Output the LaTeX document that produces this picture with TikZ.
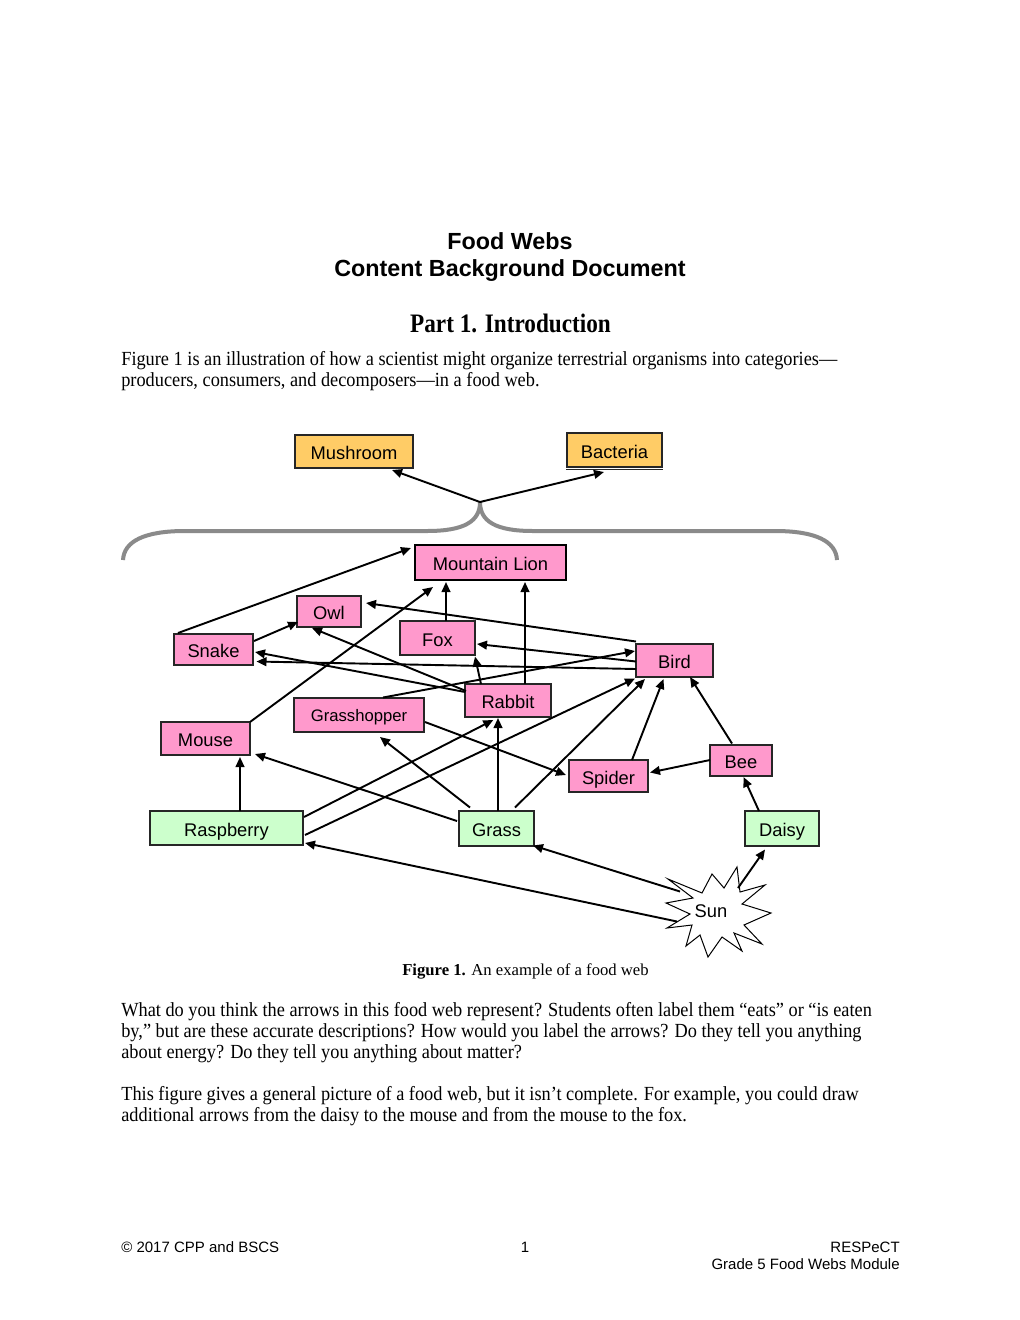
\documentclass[tikz,border=0pt]{standalone}
\usepackage{fontspec}
\setmainfont{Liberation Serif}
\setsansfont{Liberation Sans}
\newfontfamily\bodyrm[FakeStretch=0.915]{Liberation Serif}
\newfontfamily\headrm[FakeStretch=0.87]{Liberation Serif}
\usetikzlibrary{arrows.meta,calc}
\definecolor{pinkc}{HTML}{FF99CC}
\definecolor{greenc}{HTML}{CCFFCC}
\definecolor{orangec}{HTML}{FFCC66}
\definecolor{bracec}{HTML}{8A8A8A}
\tikzset{
  box/.style={draw=black!85, line width=0.7pt, inner sep=0pt, text height=9.8pt, text depth=0pt, font=\sffamily\fontsize{11}{13}\selectfont},
  pinkbox/.style={box, fill=pinkc},
  greenbox/.style={box, fill=greenc},
  orangebox/.style={box, fill=orangec},
  link/.style={draw=black, line width=1.15pt, -{Triangle[length=6pt,width=5.2pt]}},
  bodytext/.style={anchor=base west, inner sep=0pt, font=\bodyrm\fontsize{12}{14}\selectfont},
  foot/.style={inner sep=0pt, font=\sffamily\fontsize{9}{11}\selectfont},
}
\begin{document}
\begin{tikzpicture}[x=0.6pt,y=-0.6pt]
\useasboundingbox (0,0) rectangle (1020,1320);
\fill[white] (0,0) rectangle (1020,1320);

% headings and text
\node[inner sep=0pt, anchor=base, font=\sffamily\bfseries\fontsize{14}{16}\selectfont] (title1) at (510,249) {Food Webs};
\node[inner sep=0pt, anchor=base, font=\sffamily\bfseries\fontsize{14}{16}\selectfont] (title2) at (510,276) {Content Background Document};
\node[inner sep=0pt, anchor=base, font=\headrm\bfseries\fontsize{16}{18}\selectfont] (part) at (510.5,332) {Part 1. Introduction};
\node[bodytext] (p1a) at (121,365) {Figure 1 is an illustration of how a scientist might organize terrestrial organisms into categories—};
\node[bodytext] (p1b) at (121,386.5) {producers, consumers, and decomposers—in a food web.};

\node[inner sep=0pt, anchor=base, font=\rmfamily\fontsize{10}{12}\selectfont] (cap) at (525.5,975) {\textbf{Figure 1.} An example of a food web};

\node[bodytext] (p2a) at (121,1016) {What do you think the arrows in this food web represent? Students often label them “eats” or “is eaten};
\node[bodytext] (p2b) at (121,1037) {by,” but are these accurate descriptions? How would you label the arrows? Do they tell you anything};
\node[bodytext] (p2c) at (121,1058) {about energy? Do they tell you anything about matter?};
\node[bodytext] (p3a) at (121,1100) {This figure gives a general picture of a food web, but it isn’t complete. For example, you could draw};
\node[bodytext] (p3b) at (121,1121) {additional arrows from the daisy to the mouse and from the mouse to the fox.};

\node[foot, anchor=base west] (f1) at (121,1252) {© 2017 CPP and BSCS};
\node[foot, anchor=base] (f2) at (525,1252) {1};
\node[foot, anchor=base east] (f3) at (900,1252) {RESPeCT};
\node[foot, anchor=base east] (f4) at (900,1269) {Grade 5 Food Webs Module};

% brace
\draw[bracec, line width=2.4pt]
  (123,560) .. controls (124,541) and (145,531) .. (185,531) -- (427,531)
  .. controls (465,531) and (480,521) .. (480,502)
  .. controls (480,521) and (495,531) .. (533,531) -- (775,531)
  .. controls (815,531) and (836,541) .. (837,560);
\coordinate (bt) at (480,502);

% nodes
\node[orangebox, minimum width=70.8pt, minimum height=19.8pt] (mush) at (354,451.5) {Mushroom};
\node[orangebox, minimum width=57pt, minimum height=20.4pt] (bac) at (614.5,450) {Bacteria};
\draw[black!85, line width=0.6pt] ([yshift=-1.3pt]bac.south west) -- ([yshift=-1.3pt]bac.south east);
\node[pinkbox, draw=black, line width=1.4pt, minimum width=90.6pt, minimum height=21pt] (ml) at (490.5,562.5) {Mountain Lion};
\node[pinkbox, minimum width=38.4pt, minimum height=18.6pt] (owl) at (329,611.5) {Owl};
\node[pinkbox, minimum width=45pt, minimum height=20.4pt] (fox) at (437.5,638) {Fox};
\node[pinkbox, minimum width=47.4pt, minimum height=18.6pt] (snake) at (213.5,649.5) {Snake};
\node[pinkbox, minimum width=46.2pt, minimum height=19.8pt] (bird) at (674.5,660.5) {Bird};
\node[pinkbox, minimum width=51.6pt, minimum height=19.8pt] (rabbit) at (508,700.5) {Rabbit};
\node[pinkbox, minimum width=78pt, minimum height=20.4pt, text height=8.5pt, text depth=0.5pt, font=\sffamily\fontsize{10}{12}\selectfont] (hopper) at (359,715) {Grasshopper};
\node[pinkbox, minimum width=53.4pt, minimum height=19.8pt] (mouse) at (205.5,738.5) {Mouse};
\node[pinkbox, minimum width=37.2pt, minimum height=18.6pt] (bee) at (741,760.5) {Bee};
\node[pinkbox, minimum width=47.4pt, minimum height=19.2pt] (spider) at (608.5,776) {Spider};
\node[greenbox, minimum width=91.8pt, minimum height=20.4pt] (rasp) at (226.5,828) {Raspberry};
\node[greenbox, minimum width=45pt, minimum height=21pt] (grass) at (496.5,828.5) {Grass};
\node[greenbox, minimum width=44.4pt, minimum height=21pt] (daisy) at (782,828.5) {Daisy};

% sun
\draw[black, line width=0.6pt, fill=white]
  (668,879) -- (702,893) -- (712,874) -- (724,888) -- (737,867) -- (740,892)
  -- (765,885) -- (742,904) -- (771,913) -- (744,925) -- (762,944) -- (734,933)
  -- (742,951) -- (722,937) -- (708,957) -- (700,935) -- (686,946) -- (692,925)
  -- (667,928) -- (690,914) -- (666,903) -- (693,898) -- cycle;
\node[inner sep=0pt, font=\sffamily\fontsize{11}{13}\selectfont] (sun) at (711,911) {Sun};

% connectors
\draw[link] (bt) -- ($(mush)+(38,18.5)$);
\draw[link] (bt) -- ($(bac)+(-10.5,22)$);
\draw[link] ($(snake)+(-35.5,-16.5)$) -- ($(ml)+(-79.5,-14.5)$);
\draw[link] ($(snake)+(40.5,-8.5)$) -- ($(owl)+(-31,10.5)$);
\draw[link] ($(mouse)+(44.5,-16.5)$) -- ($(ml)+(-57.5,24.5)$);
\draw[link] ($(fox)+(8.5,-17)$) -- ($(ml)+(-44.5,19.5)$);
\draw[link] ($(rabbit)+(17,-16.5)$) -- ($(ml)+(34.5,19.5)$);
\draw[link] ($(bird)+(-38.5,-19)$) -- ($(owl)+(37,-8.5)$);
\draw[link] ($(bird)+(-38.5,1)$) -- ($(fox)+(39.5,6)$);
\draw[link] ($(bird)+(-38.5,8.5)$) -- ($(snake)+(43,12)$);
\draw[link] ($(rabbit)+(-43,-8.5)$) -- ($(snake)+(41.5,2.5)$);
\draw[link] ($(rabbit)+(-42,-9.5)$) -- ($(owl)+(-17,16.5)$);
\draw[link] ($(rabbit)+(-27,-16.5)$) -- ($(fox)+(37.5,18.5)$);
\draw[link] ($(hopper)+(24,-17.5)$) -- ($(bird)+(-39.5,-9.5)$);
\draw[link] ($(hopper)+(66,7)$) -- ($(spider)+(-42.5,-1)$);
\draw[link] ($(grass)+(-26.5,-21)$) -- ($(hopper)+(21,22)$);
\draw[link] ($(grass)+(1.5,-17.5)$) -- ($(rabbit)+(-10,17.5)$);
\draw[link] ($(grass)+(18.5,-21)$) -- ($(bird)+(-29.5,18.5)$);
\draw[link] ($(grass)+(-39.5,-7.5)$) -- ($(mouse)+(49.5,15.5)$);
\draw[link] ($(rasp)+(77.5,-11)$) -- ($(rabbit)+(-14.7,19.5)$);
\draw[link] ($(rasp)+(78.5,7)$) -- ($(bird)+(-39.5,18)$);
\draw[link] ($(rasp)+(13.5,-17)$) -- ($(mouse)+(34.5,18.5)$);
\draw[link] ($(spider)+(23.5,-16)$) -- ($(bird)+(-11,18.5)$);
\draw[link] ($(bee)+(-31,-0.5)$) -- ($(spider)+(41.5,-3.5)$);
\draw[link] ($(bee)+(-9,-17)$) -- ($(bird)+(15.5,16.5)$);
\draw[link] ($(daisy)+(-23,-17.5)$) -- ($(bee)+(2.5,16.5)$);
\draw[link] ($(sun)+(27,-23)$) -- ($(daisy)+(-17,21)$);
\draw[link] ($(sun)+(-31,-19.5)$) -- ($(grass)+(36.5,17)$);
\draw[link] ($(sun)+(-34,10.5)$) -- ($(rasp)+(78.5,15)$);
\end{tikzpicture}
\end{document}
